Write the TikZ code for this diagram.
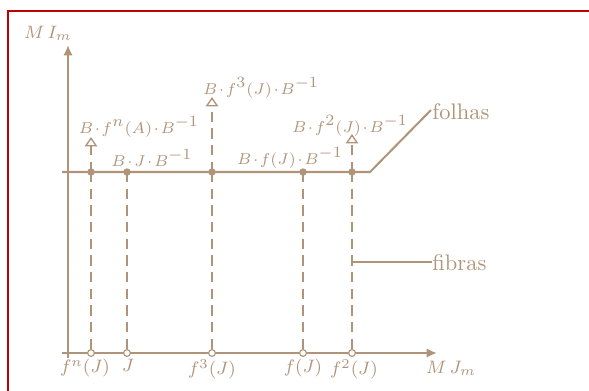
\documentclass[tikz,border=0pt]{standalone}
\usetikzlibrary{arrows.meta}
\definecolor{axc}{RGB}{176,148,122}
\definecolor{framec}{RGB}{192,0,0}
\newcommand{\mydt}{\mskip1.5mu{\cdot}\mskip1.5mu}
\newcommand{\mysup}[1]{^{\textstyle #1}}
\tikzset{
  axisline/.style={draw=axc, line width=0.9pt},
  dashline/.style={draw=axc, line width=0.9pt, dash pattern=on 4.6pt off 2.8pt},
  opentip/.style={-{Triangle[open, length=4.2pt, width=5.6pt, line width=0.6pt]}},
  fulltip/.style={-{Latex[length=4.6pt, width=4.2pt]}},
  fdot/.style={circle, fill=axc, inner sep=0pt, minimum size=3.3pt},
  odot/.style={circle, draw=axc, line width=0.5pt, fill=white, inner sep=0pt, minimum size=3pt},
  lbl/.style={text=axc, inner sep=0pt, font=\scriptsize},
  blbl/.style={text=axc, inner sep=0pt, font=\footnotesize},
  axlbl/.style={text=axc, inner sep=0pt, font=\footnotesize},
  txt/.style={text=axc, inner sep=0pt}
}
\begin{document}
\begin{tikzpicture}[x=0.4444pt, y=-0.4444pt]
\useasboundingbox (0,0) rectangle (589,390);
% frame
\draw[framec, line width=0.9pt] (8,392) -- (8,11) -- (592,11);
% axes
\coordinate (ybot) at (68,358);
\coordinate (ytop) at (68,45);
\coordinate (xl) at (62,353);
\coordinate (xr) at (437,353);
\draw[axisline, fulltip] (ybot) -- (ytop);
\draw[axisline, fulltip] (xl) -- (xr);
\node[axlbl] (mi) at (48,33) {$M\,I_m$};
\node[axlbl] (mj) at (451,368) {$M\,J_m$};
% leaf line
\coordinate (hl) at (62,172);
\coordinate (hk) at (370,172);
\coordinate (fe) at (431,110);
\draw[axisline] (hl) -- (hk) -- (fe);
\node[txt, anchor=west] (folhas) at (432,112) {folhas};
% dashed fibers
\foreach \i/\x in {1/91, 2/127, 3/212, 4/303, 5/352} {
  \node[odot] (q\i) at (\x,353) {};
}
\foreach \i/\x in {1/91, 2/127, 3/212, 4/303, 5/352} {
  \draw[dashline] (\x,172) -- (q\i);
}
\coordinate (t1) at (91,137);
\coordinate (t3) at (212,97);
\coordinate (t5) at (352,134);
\draw[dashline, opentip] (91,172) -- (t1);
\draw[dashline, opentip] (212,172) -- (t3);
\draw[dashline, opentip] (352,172) -- (t5);
\foreach \i/\x in {1/91, 2/127, 3/212, 4/303, 5/352} {
  \node[fdot] (p\i) at (\x,172) {};
}
% fibras
\coordinate (fb) at (352,262);
\node[txt, anchor=west] (fibras) at (432,263) {fibras};
\draw[axisline] (fb) -- (fibras.west |- fb);
% top labels
\node[lbl] (l1) at (139,127) {$B\mydt f\mysup{n}(A)\mydt B\mysup{-1}$};
\node[lbl] (l2) at (152,158) {$B\mydt J\mydt B\mysup{-1}$};
\node[lbl] (l3) at (261,88) {$B\mydt f\mysup{3}(J)\mydt B\mysup{-1}$};
\node[lbl] (l4) at (290,158) {$B\mydt f(J)\mydt B\mysup{-1}$};
\node[lbl] (l5) at (350,126) {$B\mydt f\mysup{2}(J)\mydt B\mysup{-1}$};
% bottom labels
\node[blbl, anchor=north] (b1) at (85,359) {$f^n(J)$};
\node[blbl, anchor=north] (b2) at (128,359) {$J$};
\node[blbl, anchor=north] (b3) at (212,359) {$f^3(J)$};
\node[blbl, anchor=north] (b4) at (303,359) {$f(J)$};
\node[blbl, anchor=north] (b5) at (354,359) {$f^2(J)$};
\end{tikzpicture}
\end{document}
